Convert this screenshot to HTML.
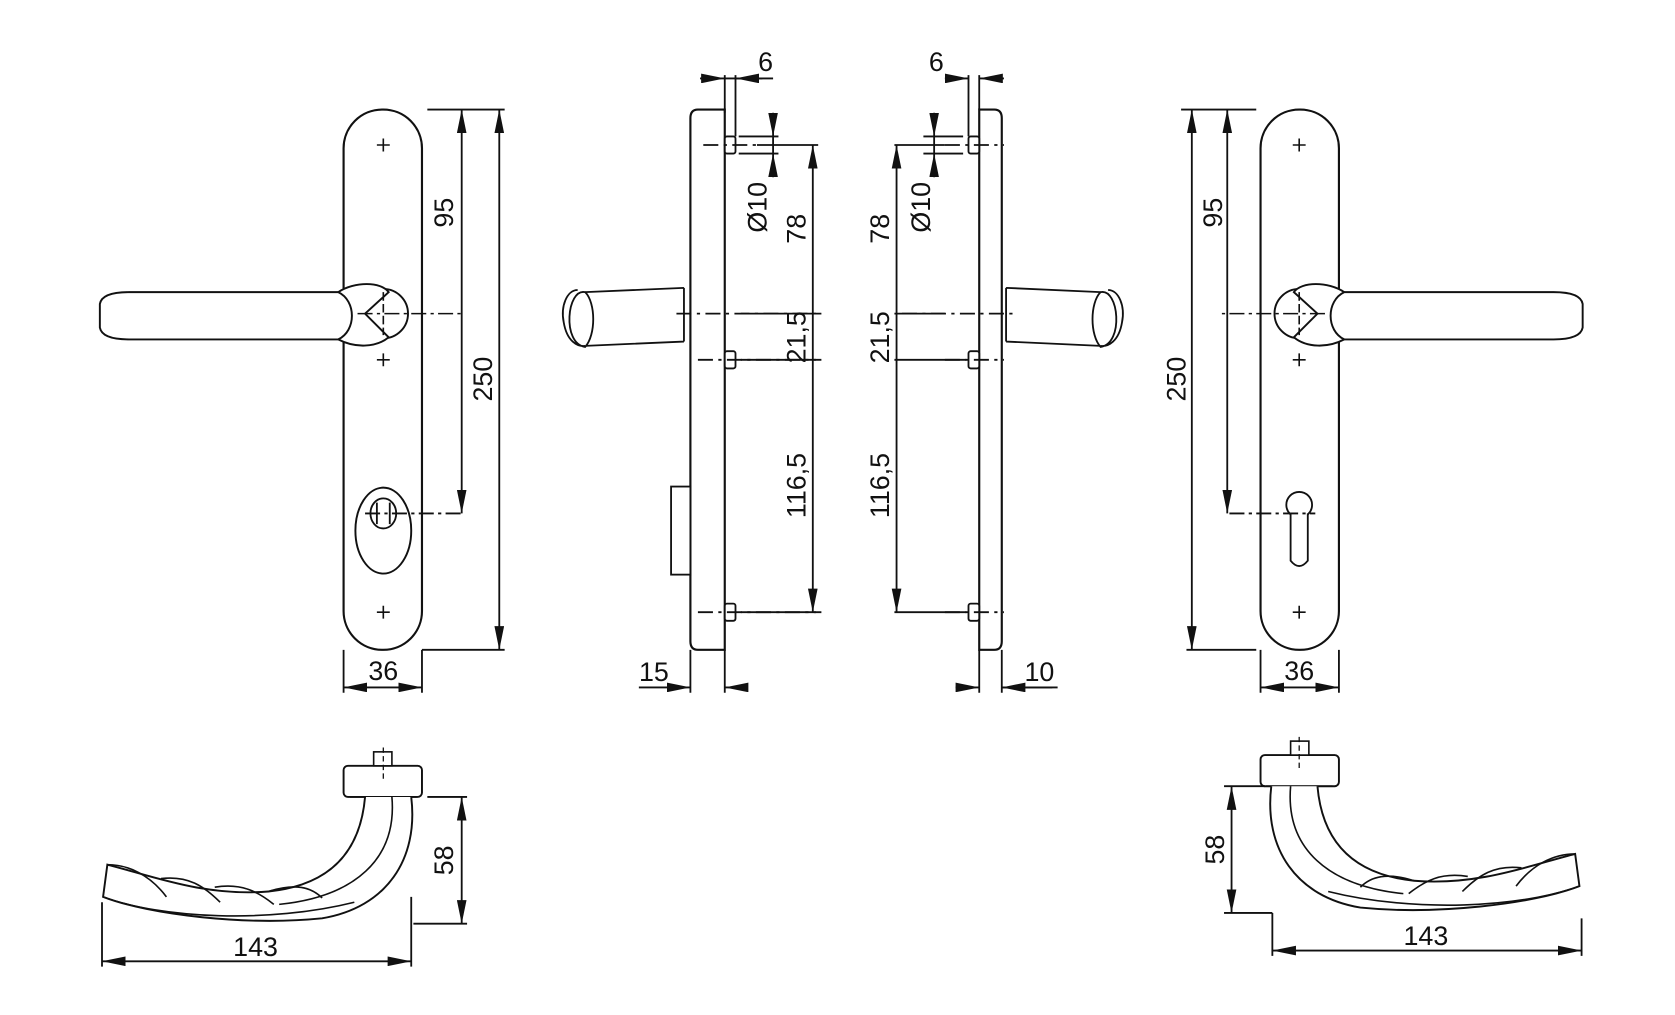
<!DOCTYPE html>
<html><head><meta charset="utf-8"><style>
html,body{margin:0;padding:0;background:#fff;}
svg{display:block;}
text{font-family:"Liberation Sans",sans-serif;font-size:25px;fill:#111;}
</style></head><body>
<svg width="1675" height="1015" viewBox="0 0 1560 945" preserveAspectRatio="none" xmlns="http://www.w3.org/2000/svg">
<defs>
<marker id="a" viewBox="0 0 22 9" refX="22" refY="4.5" markerWidth="22" markerHeight="9" markerUnits="userSpaceOnUse" orient="auto-start-reverse"><path d="M0,0 L22,4.5 L0,9z" fill="#111"/></marker>
<g id="front">
 <rect x="320" y="102" width="73" height="503" rx="36" fill="none" stroke="#111" stroke-width="2"/>
 <path d="M351,135h12M357,129v12M351,335h12M357,329v12M351,570h12M357,564v12" stroke="#111" stroke-width="1.5"/>
 <circle cx="357" cy="292" r="23" fill="#fff" stroke="#111" stroke-width="1.8"/>
 <path d="M315,272 C330,262 355,262 362,272 L340,292 L362,314 C350,324 330,324 315,316" fill="#fff" stroke="#111" stroke-width="1.8"/>
 <path d="M315,316 L120,316 Q95,316 93,305 L93,283 Q95,272 120,272 L315,272 C332,280 332,308 315,316" fill="#fff" stroke="#111" stroke-width="1.8"/>
 <path d="M333,292 H433" stroke="#111" stroke-width="1.5" stroke-dasharray="14,4,3,4"/>
 <path d="M357,272 v40" stroke="#111" stroke-width="1.5" stroke-dasharray="8,3"/>
</g>
<g id="hand">
 <rect x="320" y="713" width="73" height="29" rx="4" fill="#fff" stroke="#111" stroke-width="1.8"/>
 <rect x="348" y="700" width="17" height="13" fill="#fff" stroke="#111" stroke-width="1.5"/>
 <path d="M357,696 v30" stroke="#111" stroke-width="1.2" stroke-dasharray="5,3"/>
 <path d="M326,742 h62" stroke="#111" stroke-width="1.5"/>
 <path d="M383,742 C390,800 360,845 300,855 C230,862 140,852 96,835 L100,805 C140,815 190,835 250,830 C300,825 335,800 340,742" fill="#fff" stroke="#111" stroke-width="1.8"/>
 <path d="M365,742 C370,800 330,835 260,842" fill="none" stroke="#111" stroke-width="1.5"/>
 <path d="M100,805 C120,805 140,815 155,835 M150,818 C175,815 190,825 205,840 M200,826 C225,822 240,830 255,842 M250,830 C275,822 290,826 300,836" fill="none" stroke="#111" stroke-width="1.5"/>
 <path d="M96,835 C150,855 250,860 330,840" fill="none" stroke="#111" stroke-width="1.5"/>
</g>
</defs>
<g stroke="#111" stroke-width="1.7" fill="none">
<use href="#front"/>
<ellipse cx="357" cy="494" rx="26" ry="40" fill="#fff" stroke="#111" stroke-width="1.8"/>
<ellipse cx="357" cy="478" rx="12" ry="14"/>
<path d="M351,468v20M363,468v20" />
<path d="M340,478 H433" stroke-dasharray="14,4,3,4"/>
<path d="M398,102H470M393,605H470"/>
<path d="M430,102V292M430,292V478" marker-start="url(#a)" marker-end="url(#a)"/>
<path d="M465,102V605" marker-start="url(#a)" marker-end="url(#a)"/>
<path d="M320,605V645M393,605V645"/>
<path d="M320,640H393" marker-start="url(#a)" marker-end="url(#a)"/>
<g transform="translate(1567,0) scale(-1,1)"><use href="#front"/></g>
<circle cx="1210" cy="470" r="12" fill="#fff"/>
<path d="M1202,478 L1202,522 Q1210,532 1218,522 L1218,478" fill="#fff"/>
<path d="M1145,478 H1225" stroke-dasharray="14,4,3,4"/>
<path d="M1100,102H1170M1105,605H1170"/>
<path d="M1143,102V292M1143,292V478" marker-start="url(#a)" marker-end="url(#a)"/>
<path d="M1110,102V605" marker-start="url(#a)" marker-end="url(#a)"/>
<path d="M1174,605V645M1247,605V645"/>
<path d="M1174,640H1247" marker-start="url(#a)" marker-end="url(#a)"/>
<path d="M675,102 H650 Q643,102 643,110 V597 Q643,605 650,605 H675 Z" fill="#fff" stroke-width="2"/>
<rect x="625" y="453" width="18" height="82" fill="#fff"/>
<path d="M637,268 V318 M637,268 L545,272 M637,318 L545,322"/>
<path d="M545,272 C528,268 523,320 545,323 C555,312 555,282 545,272Z M538,270 C528,270 522,285 525,300 C528,318 538,323 545,322" fill="#fff"/>
<rect x="675" y="127" width="10" height="16" rx="2" fill="#fff"/>
<rect x="675" y="327" width="10" height="16" rx="2" fill="#fff"/>
<rect x="675" y="562" width="10" height="16" rx="2" fill="#fff"/>
<path d="M655,135 H705 M630,292 H760 M650,335 H760 M650,570 H760" stroke-dasharray="14,5,3,5"/>
<path d="M705,135H762 M690,292H765 M690,335H765 M690,570H765"/>
<path d="M688,127H725M688,143H725"/>
<path d="M720,105V127" marker-end="url(#a)"/><path d="M720,165V143" marker-end="url(#a)"/><path d="M720,127V143"/>
<path d="M757,135V292M757,292V335M757,335V570" marker-start="url(#a)" marker-end="url(#a)"/>
<path d="M675,70V105M685,70V127"/>
<path d="M652,73H675" marker-end="url(#a)"/><path d="M710,73H685" marker-end="url(#a)"/><path d="M675,73H720"/>
<path d="M643,605V645M675,605V645"/>
<path d="M595,640H643" marker-end="url(#a)"/><path d="M695,640H675" marker-end="url(#a)"/>
<path d="M912,102 H926 Q933,102 933,110 V597 Q933,605 926,605 H912 Z" fill="#fff" stroke-width="2"/>
<path d="M937,268 V318 M937,268 L1025,272 M937,318 L1025,322"/>
<path d="M1025,272 C1042,268 1047,320 1025,323 C1015,312 1015,282 1025,272Z M1032,270 C1042,270 1048,285 1045,300 C1042,318 1032,323 1025,322" fill="#fff"/>
<rect x="902" y="127" width="10" height="16" rx="2" fill="#fff"/>
<rect x="902" y="327" width="10" height="16" rx="2" fill="#fff"/>
<rect x="902" y="562" width="10" height="16" rx="2" fill="#fff"/>
<path d="M880,135 H935 M840,292 H945 M880,335 H935 M880,570 H935" stroke-dasharray="14,5,3,5"/>
<path d="M833,135H880 M833,292H880 M833,335H900 M833,570H900"/>
<path d="M860,127H897M860,143H897"/>
<path d="M870,105V127" marker-end="url(#a)"/><path d="M870,165V143" marker-end="url(#a)"/><path d="M870,127V143"/>
<path d="M835,135V292M835,292V335M835,335V570" marker-start="url(#a)" marker-end="url(#a)"/>
<path d="M902,70V127M912,70V102"/>
<path d="M880,73H902" marker-end="url(#a)"/><path d="M935,73H912" marker-end="url(#a)"/>
<path d="M912,605V645M933,605V645"/>
<path d="M890,640H912" marker-end="url(#a)"/><path d="M985,640H933" marker-end="url(#a)"/><path d="M933,640H980"/>
<use href="#hand"/>
<g transform="translate(1567,-10) scale(-1,1)"><use href="#hand"/></g>
<path d="M398,742H435M385,860H435"/>
<path d="M430,742V860" marker-start="url(#a)" marker-end="url(#a)"/>
<path d="M95,840V900M383,835V900"/>
<path d="M95,895H383" marker-start="url(#a)" marker-end="url(#a)"/>
<path d="M1140,732H1178M1140,850H1185"/>
<path d="M1147,732V850" marker-start="url(#a)" marker-end="url(#a)"/>
<path d="M1185,850V890M1473,855V890"/>
<path d="M1185,885H1473" marker-start="url(#a)" marker-end="url(#a)"/>
</g>
<g stroke="none">
<text transform="translate(422,198) rotate(-90)" text-anchor="middle">95</text>
<text transform="translate(458,353) rotate(-90)" text-anchor="middle">250</text>
<text x="357" y="633" text-anchor="middle">36</text>
<text transform="translate(1138,198) rotate(-90)" text-anchor="middle">95</text>
<text transform="translate(1104,353) rotate(-90)" text-anchor="middle">250</text>
<text x="1210" y="633" text-anchor="middle">36</text>
<text x="713" y="66" text-anchor="middle">6</text>
<text x="872" y="66" text-anchor="middle">6</text>
<text transform="translate(714,193) rotate(-90)" text-anchor="middle">Ø10</text>
<text transform="translate(866,193) rotate(-90)" text-anchor="middle">Ø10</text>
<text transform="translate(750,213) rotate(-90)" text-anchor="middle">78</text>
<text transform="translate(828,213) rotate(-90)" text-anchor="middle">78</text>
<text transform="translate(750,314) rotate(-90)" text-anchor="middle">21,5</text>
<text transform="translate(828,314) rotate(-90)" text-anchor="middle">21,5</text>
<text transform="translate(750,452) rotate(-90)" text-anchor="middle">116,5</text>
<text transform="translate(828,452) rotate(-90)" text-anchor="middle">116,5</text>
<text x="609" y="634" text-anchor="middle">15</text>
<text x="968" y="634" text-anchor="middle">10</text>
<text transform="translate(422,801) rotate(-90)" text-anchor="middle">58</text>
<text transform="translate(1140,791) rotate(-90)" text-anchor="middle">58</text>
<text x="238" y="890" text-anchor="middle">143</text>
<text x="1328" y="880" text-anchor="middle">143</text>
</g>
</svg>
</body></html>
